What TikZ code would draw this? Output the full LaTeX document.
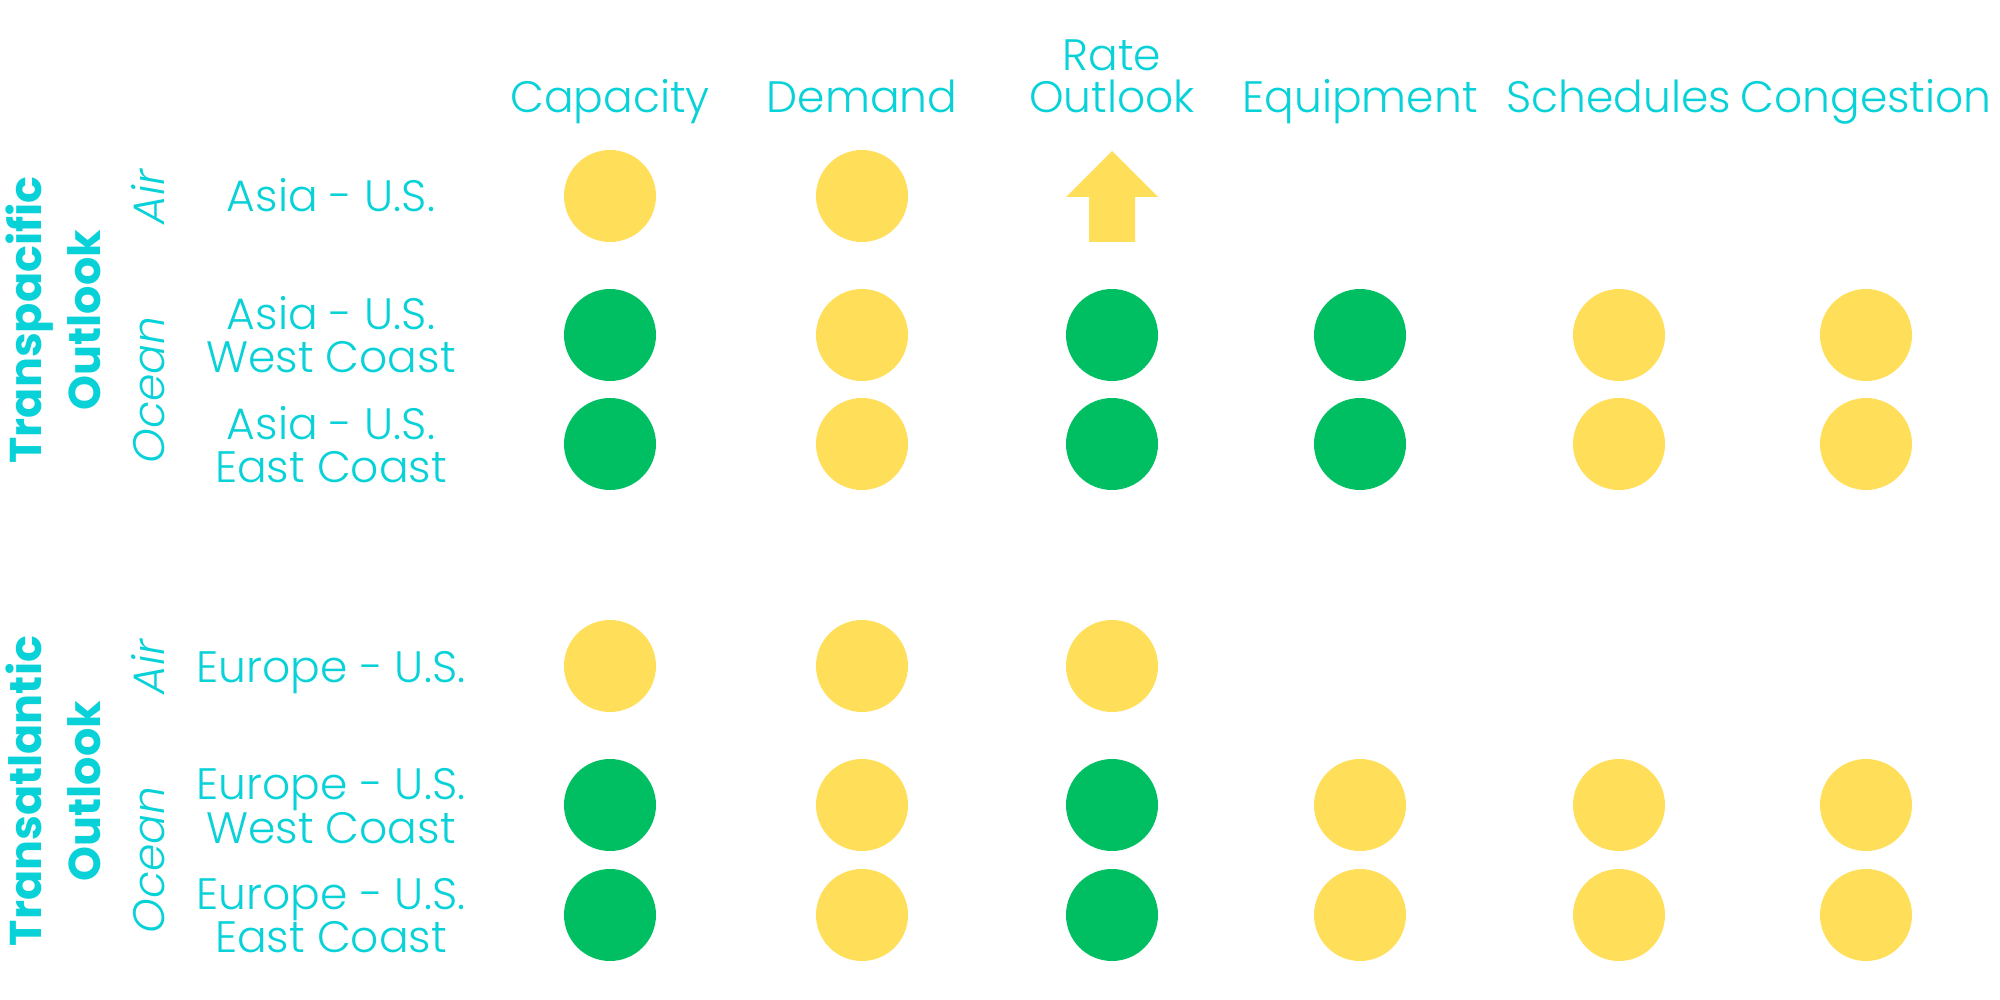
\documentclass[tikz,border=0pt]{standalone}
\usepackage{fontspec}
\setmainfont{Poppins}[UprightFont=* Light, ItalicFont=* Light Italic, BoldFont=* Bold]
\definecolor{txtc}{HTML}{08D2D8}
\definecolor{ylw}{HTML}{FFDE59}
\definecolor{grn}{HTML}{00BF63}
\begin{document}
\begin{tikzpicture}[x=1pt,y=-1pt,
  lbl/.style={text=txtc,font=\fontsize{44}{52}\selectfont,inner sep=0pt,anchor=base},
  mode/.style={text=txtc,font=\fontsize{44}{52}\selectfont\itshape,inner sep=0pt,anchor=base,rotate=90},
  ttl/.style={text=txtc,font=\fontsize{44.5}{52}\selectfont\bfseries,inner sep=0pt,anchor=base,rotate=90},
  dot/.style={circle,minimum size=92pt,inner sep=0pt,draw=none},
  yd/.style={dot,fill=ylw},
  gd/.style={dot,fill=grn}]
\useasboundingbox (0,0) rectangle (2000,1000);
% headers
\node[lbl] (hcap) at (610,113) {Capacity};
\node[lbl] (hdem) at (862,113) {Demand};
\node[lbl] (hrate) at (1112,71) {Rate};
\node[lbl] (hrate2) at (1112,113) {Outlook};
\node[lbl] (hequ) at (1360,113) {Equipment};
\node[lbl] (hsch) at (1619,113) {Schedules};
\node[lbl] (hcon) at (1866,113) {Congestion};
% section titles
\node[ttl] (t1a) at (41,320) {Transpacific};
\node[ttl] (t1b) at (100,320) {Outlook};
\node[ttl] (t2a) at (41,791) {Transatlantic};
\node[ttl] (t2b) at (100,791) {Outlook};
% modes
\node[mode] (m1) at (164,197) {Air};
\node[mode] (m2) at (164,390) {Ocean};
\node[mode] (m3) at (164,667) {Air};
\node[mode] (m4) at (164,860) {Ocean};
% row labels
\node[lbl] (r1) at (331,212) {Asia - U.S.};
\node[lbl] (r2a) at (331,330) {Asia - U.S.};
\node[lbl] (r2b) at (331,372) {West Coast};
\node[lbl] (r3a) at (331,439) {Asia - U.S.};
\node[lbl] (r3b) at (331,482) {East Coast};
\node[lbl] (r4) at (331,682) {Europe - U.S.};
\node[lbl] (r5a) at (331,799) {Europe - U.S.};
\node[lbl] (r5b) at (331,843) {West Coast};
\node[lbl] (r6a) at (331,909) {Europe - U.S.};
\node[lbl] (r6b) at (331,952) {East Coast};
% row 1
\node[yd] (d11) at (610,196) {};
\node[yd] (d12) at (862,196) {};
\fill[ylw] (1112,151) -- (1158,197) -- (1135,197) -- (1135,242) -- (1089,242) -- (1089,197) -- (1066,197) -- cycle;
% row 2
\node[gd] (d21) at (610,335) {};
\node[yd] (d22) at (862,335) {};
\node[gd] (d23) at (1112,335) {};
\node[gd] (d24) at (1360,335) {};
\node[yd] (d25) at (1619,335) {};
\node[yd] (d26) at (1866,335) {};
% row 3
\node[gd] (d31) at (610,444) {};
\node[yd] (d32) at (862,444) {};
\node[gd] (d33) at (1112,444) {};
\node[gd] (d34) at (1360,444) {};
\node[yd] (d35) at (1619,444) {};
\node[yd] (d36) at (1866,444) {};
% row 4
\node[yd] (d41) at (610,666) {};
\node[yd] (d42) at (862,666) {};
\node[yd] (d43) at (1112,666) {};
% row 5
\node[gd] (d51) at (610,805) {};
\node[yd] (d52) at (862,805) {};
\node[gd] (d53) at (1112,805) {};
\node[yd] (d54) at (1360,805) {};
\node[yd] (d55) at (1619,805) {};
\node[yd] (d56) at (1866,805) {};
% row 6
\node[gd] (d61) at (610,915) {};
\node[yd] (d62) at (862,915) {};
\node[gd] (d63) at (1112,915) {};
\node[yd] (d64) at (1360,915) {};
\node[yd] (d65) at (1619,915) {};
\node[yd] (d66) at (1866,915) {};
\end{tikzpicture}
\end{document}
